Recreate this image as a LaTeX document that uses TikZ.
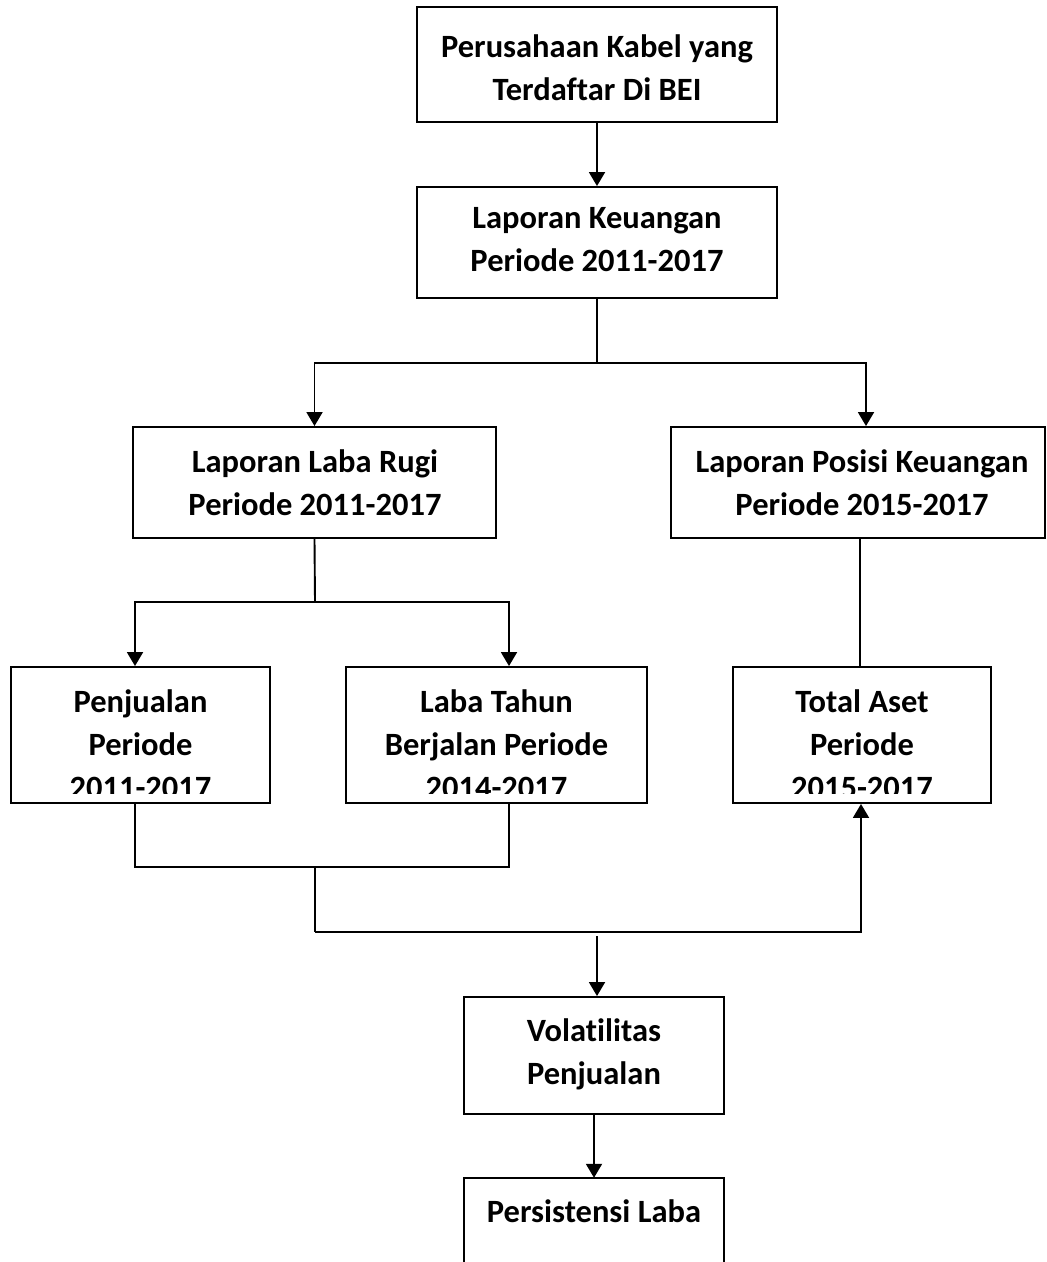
\documentclass[tikz,border=0pt]{standalone}
\usepackage{fontspec}
\setmainfont[Ligatures={NoCommon}]{Carlito}
\usetikzlibrary{arrows.meta}
\tikzset{
  box/.style={draw, line width=1.9pt, rectangle, inner sep=0pt},
  txt/.style={align=center, font=\bfseries\fontsize{32.5}{43}\selectfont, inner sep=0pt},
  con/.style={line width=1.9pt},
  arr/.style={con, -{Triangle[width=16pt,length=14pt]}}
}
\begin{document}
\begin{tikzpicture}[x=1pt,y=-1pt]
\useasboundingbox (0,0) rectangle (1047,1262);
% boxes
\node[box, minimum width=360, minimum height=115] (b1) at (597,64.5) {};
\node[txt] (t1) at (597,68) {Perusahaan Kabel yang\\Terdaftar Di BEI};
\node[box, minimum width=360, minimum height=111] (b2) at (597,242.5) {};
\node[txt] (t2) at (597,240) {Laporan Keuangan\\Periode 2011-2017};
\node[box, minimum width=363, minimum height=111] (b3) at (314.5,482.5) {};
\node[txt] (t3) at (315,483) {Laporan Laba Rugi\\Periode 2011-2017};
\node[box, minimum width=374, minimum height=111] (b4) at (858,482.5) {};
\node[txt] (t4) at (862,483) {Laporan Posisi Keuangan\\Periode 2015-2017};
\node[box, minimum width=259, minimum height=136] (b5) at (140.5,735) {};
\node[box, minimum width=301, minimum height=136] (b6) at (496.5,735) {};
\node[box, minimum width=258, minimum height=136] (b7) at (862,735) {};
\begin{scope}
\clip (0,660) rectangle (1047,793);
\node[txt] (t5) at (140.5,744) {Penjualan\\Periode\\2011-2017};
\node[txt] (t6) at (496.5,744) {Laba Tahun\\Berjalan Periode\\2014-2017};
\node[txt] (t7) at (862,744) {Total Aset\\Periode\\2015-2017};
\end{scope}
\node[box, minimum width=260, minimum height=117] (b8) at (594,1055.5) {};
\node[txt] (t8) at (594,1054) {Volatilitas\\Penjualan};
\node[minimum width=260, minimum height=84, inner sep=0pt] (b9) at (594,1220) {};
\draw[con] (b9.south west) |- (b9.north east) -- (b9.south east);
\node[txt] (t9) at (594,1211) {Persistensi Laba};
% connectors
\draw[arr] (b1.south) -- (b2.north);
\coordinate (j1) at (597,363);
\draw[con] (b2.south) -- (j1);
\draw[arr] (j1) -| (b3.north);
\draw[arr] (j1) -| ([xshift=8]b4.north);
\coordinate (j2) at (315,602);
\draw[con] (b3.south) -- (j2);
\draw[arr] (j2) -| ([xshift=-5.5]b5.north);
\draw[arr] (j2) -| ([xshift=12.5]b6.north);
\draw[con] ([xshift=2]b4.south) -- ([xshift=-2]b7.north);
\coordinate (j3) at (315,867);
\coordinate (j4) at (315,932);
\draw[con] ([xshift=-5.5]b5.south) |- ([xshift=12.5]b6.south |- j3) -- ([xshift=12.5]b6.south);
\draw[con] (j3) -- (j4);
\draw[arr] (j4) -| ([xshift=-1]b7.south);
\coordinate (j5) at (597,936);
\draw[arr] (j5) -- (b8.north -| j5);
\draw[arr] (b8.south) -- (b9.north);
\end{tikzpicture}
\end{document}
